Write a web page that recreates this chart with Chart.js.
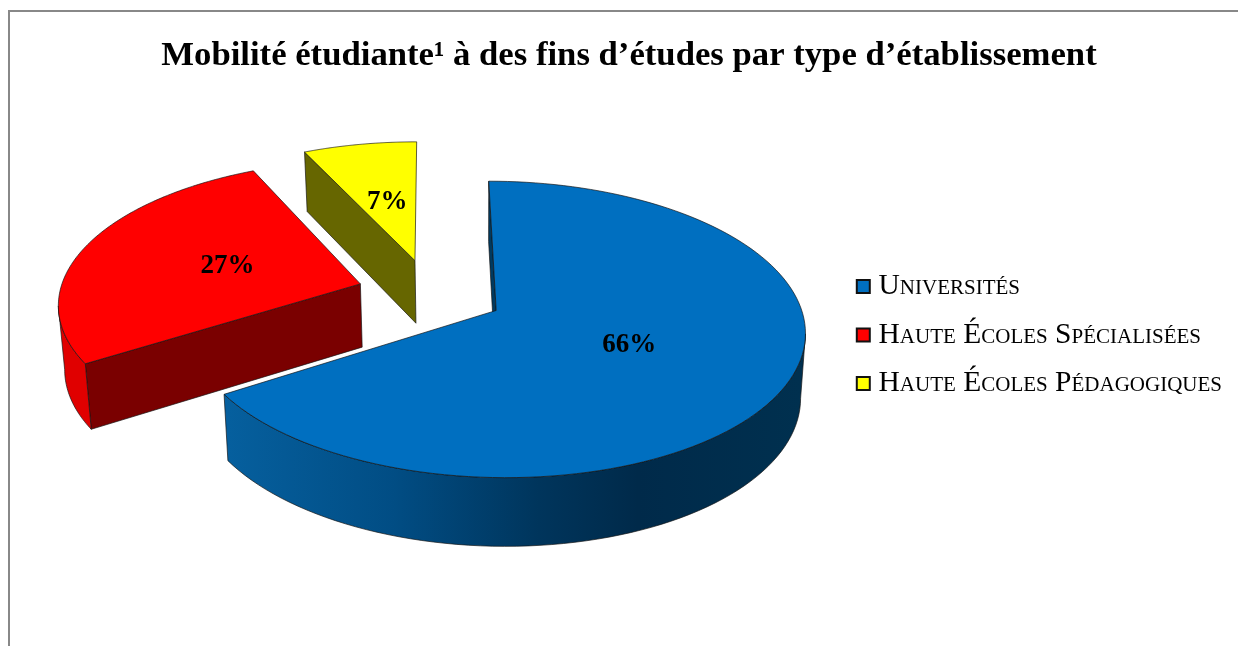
<!DOCTYPE html>
<html lang="fr">
<head>
<meta charset="utf-8">
<title>Mobilité étudiante</title>
<script src="https://cdn.jsdelivr.net/npm/chart.js@4"></script>
<style>
    html, body { margin: 0; padding: 0; background: #fff; overflow: hidden; width: 1238px; height: 646px; }
    #frame { position: absolute; left: 8px; top: 10px; width: 1300px; height: 700px; border-left: 2px solid #888; border-top: 2px solid #888; }
    #chart { position: absolute; left: 0; top: 0; }
</style>
</head>
<body>
<div id="frame"><canvas id="chart" width="1238" height="634" style="width:1238px;height:634px"></canvas></div>
<script>
// Données
const chartTitle = 'Mobilité étudiante¹ à des fins d’études par type d’établissement';
const categories = ['Universités', 'Haute Écoles Spécialisées', 'Haute Écoles Pédagogiques'];
const shares = [66, 27, 7];

const topColors = ['#006fc0', '#ff0000', '#ffff00'];
const startWallColors = ['#003a60', '#7a0000', '#666600'];

// Projection 3D (coordonnées du canvas)
const CX = 420.6, CY = 281.5, RX = 301, RY = 141.5, P = 0.126;
const DEPTH = 63.5, VX = 470, K = 0.985;
const LABEL_FRACTION = 0.475;

function project(wx, wy) {
    const s = 1 / (1 - P * wy);
    return { x: CX + RX * wx * s, y: CY + RY * wy * s, s };
}

function lowered(pt) {
    return { x: VX + (pt.x - VX) * K, y: pt.y + DEPTH * (1 + (pt.s - 1) / 2) };
}

function polygon(ctx, points, fill) {
    ctx.beginPath();
    points.forEach((p, i) => i ? ctx.lineTo(p.x, p.y) : ctx.moveTo(p.x, p.y));
    ctx.closePath();
    ctx.fillStyle = fill;
    ctx.fill();
    ctx.strokeStyle = 'rgba(20,20,20,0.85)';
    ctx.lineWidth = 0.8;
    ctx.stroke();
}

function wallFill(ctx, index) {
    if (index === 1) return '#e00000';
    if (index === 2) return '#666600';
    const grad = ctx.createLinearGradient(210, 0, 790, 0);
    grad.addColorStop(0, '#06609f');
    grad.addColorStop(0.3, '#014d84');
    grad.addColorStop(0.55, '#00355c');
    grad.addColorStop(0.72, '#002a4a');
    grad.addColorStop(1, '#00304f');
    return grad;
}

function drawSlice(ctx, arc, index) {
    const d = arc.options.offset / arc.outerRadius;
    const mid = (arc.startAngle + arc.endAngle) / 2;
    const ox = d * Math.cos(mid), oy = d * Math.sin(mid);
    const tip = project(ox, oy);
    const rim = [];
    const steps = 120;
    for (let i = 0; i <= steps; i++) {
        const a = arc.startAngle + (arc.endAngle - arc.startAngle) * i / steps;
        rim.push(project(ox + Math.cos(a), oy + Math.sin(a)));
    }

    // Paroi radiale de départ
    polygon(ctx, [tip, rim[0], lowered(rim[0]), lowered(tip)], startWallColors[index]);

    // Paroi extérieure : seulement les segments tournés vers l'observateur
    let run = [];
    const flush = () => {
        if (run.length > 1) polygon(ctx, run.concat(run.map(lowered).reverse()), wallFill(ctx, index));
        run = [];
    };
    for (let i = 0; i < steps; i++) {
        if (rim[i + 1].x < rim[i].x) {
            if (!run.length) run.push(rim[i]);
            run.push(rim[i + 1]);
        } else {
            flush();
        }
    }
    flush();

    // Face supérieure
    polygon(ctx, [tip].concat(rim), topColors[index]);
}

const pie3d = {
    id: 'pie3d',
    beforeDatasetsDraw(chart) {
        const ctx = chart.ctx;
        const arcs = chart.getDatasetMeta(0).data;
        ctx.save();
        ctx.lineJoin = 'round';
        for (let i = arcs.length - 1; i >= 0; i--) drawSlice(ctx, arcs[i], i);

        // Étiquettes
        ctx.fillStyle = '#000';
        ctx.textAlign = 'center';
        ctx.textBaseline = 'middle';
        ctx.font = 'bold 27px "Liberation Serif"';
        arcs.forEach((arc, i) => {
            const d = arc.options.offset / arc.outerRadius;
            const mid = (arc.startAngle + arc.endAngle) / 2;
            const f = d + LABEL_FRACTION;
            const pos = project(f * Math.cos(mid), f * Math.sin(mid));
            ctx.fillText(shares[i] + '%', pos.x, pos.y);
        });
        ctx.restore();
        return false;
    }
};

new Chart(document.getElementById('chart'), {
    type: 'pie',
    data: {
        labels: categories,
        datasets: [{
            data: shares,
            backgroundColor: topColors,
            borderColor: '#111',
            borderWidth: 2,
            offset: 49
        }]
    },
    options: {
        responsive: false,
        animation: false,
        radius: 200,
        rotation: 0,
        layout: { padding: { left: 16, right: 16, top: 23, bottom: 11 } },
        plugins: {
            title: {
                display: true,
                text: chartTitle,
                color: '#000',
                font: { family: '"Liberation Serif"', size: 34.7, weight: 'bold' },
                padding: { top: 0, bottom: 10 }
            },
            legend: {
                position: 'right',
                labels: {
                    color: '#000',
                    usePointStyle: true,
                    pointStyle: 'rect',
                    boxWidth: 1,
                    boxHeight: 13,
                    padding: 19,
                    font: { family: '"Liberation Serif"', size: 29.5, weight: 'small-caps' }
                }
            },
            tooltip: { enabled: false }
        }
    },
    plugins: [pie3d]
});
</script>
</body>
</html>
